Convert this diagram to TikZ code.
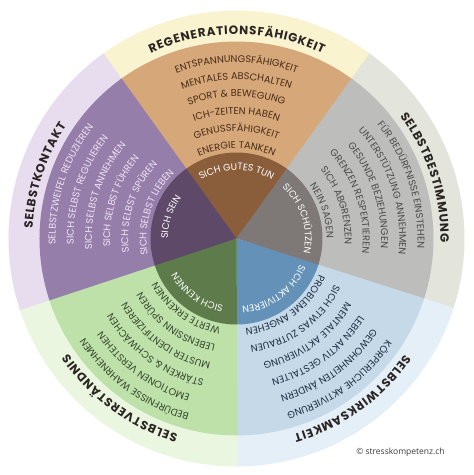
\documentclass[tikz,border=0pt]{standalone}
\usepackage{fontspec}
\setmainfont{Poppins}
\newfontfamily\copyfont{Open Sans}
\usetikzlibrary{decorations.text}

\definecolor{outbrown}{HTML}{FAF3CF}
\definecolor{midbrown}{HTML}{D5A779}
\definecolor{inbrown}{HTML}{8A5D3B}
\definecolor{txtbrown}{HTML}{4A2C16}
\definecolor{outgrey}{HTML}{E3E4DB}
\definecolor{midgrey}{HTML}{BDBDBC}
\definecolor{ingrey}{HTML}{7E7977}
\definecolor{txtgrey}{HTML}{4B4B4B}
\definecolor{outblue}{HTML}{E5EFF8}
\definecolor{midblue}{HTML}{C5D9E8}
\definecolor{inblue}{HTML}{6391B8}
\definecolor{txtblue}{HTML}{1F2C42}
\definecolor{outgreen}{HTML}{EBF6E1}
\definecolor{midgreen}{HTML}{BEE0A9}
\definecolor{ingreen}{HTML}{5E7C4B}
\definecolor{txtgreen}{HTML}{33452C}
\definecolor{outpurple}{HTML}{E8DCEF}
\definecolor{midpurple}{HTML}{967EAB}
\definecolor{inpurple}{HTML}{5E4A68}
\definecolor{txtpurple}{HTML}{EEE4F3}
\definecolor{headcol}{HTML}{2A2522}
\definecolor{copycol}{HTML}{3A3A3A}

% text on a clockwise arc: angle, radius, colour, spacing, text
\newcommand{\arclabel}[5]{%
  \path[decorate, decoration={text along path, text align=center,
    text/.expanded={|\noexpand\color{#3}\kern#4|#5}}]
    (#1+80:#2) arc[start angle=#1+80, end angle=#1-80, radius=#2];}

\begin{document}
\begin{tikzpicture}[x=1pt, y=1pt]
\useasboundingbox[fill=white] (-236.5,-236.5) rectangle (237.5,238.5);
% rings
\foreach \rad/\lay in {228/out, 197/mid, 86/in}
  \foreach \ang/\col in {90/brown, 18/grey, -54/blue, -126/green, 162/purple}
    \fill[fill=\lay\col] (0,0) -- (\ang+36.3:\rad)
      arc[start angle=\ang+36.3, end angle=\ang-36.3, radius=\rad] -- cycle;
% labels
\foreach \ang/\tcol/\ro/\head/\inn/\items in {%
  90/txtbrown/176/REGENERATIONSFÄHIGKEIT/SICH GUTES TUN/{ENTSPANNUNGSFÄHIGKEIT, MENTALES ABSCHALTEN, SPORT {\&} BEWEGUNG, ICH-ZEITEN HABEN, GENUSSFÄHIGKEIT, ENERGIE TANKEN},
  18/txtgrey/181/SELBSTBESTIMMUNG/SICH SCHÜTZEN/{FÜR BEDÜRFNISSE EINSTEHEN, UNTERSTÜTZUNG ANNEHMEN, GESUNDE BEZIEHUNGEN, GRENZEN RESPEKTIEREN, SICH ABGRENZEN, NEIN SAGEN},
  -54/txtblue/181/SELBSTWIRKSAMKEIT/SICH AKTIVIEREN/{KÖRPERLICHE AKTIVIERUNG, GEWOHNHEITEN ÄNDERN, LEBEN AKTIV GESTALTEN, MENTALE AKTIVIERUNG, SICH ETWAS ZUTRAUEN, PROBLEME ANGEHEN},
  -126/txtgreen/181/SELBSTVERSTÄNDNIS/SICH KENNEN/{BEDÜRFNISSE WAHRNEHMEN, EMOTIONEN VERSTEHEN, STÄRKEN {\&} SCHWÄCHEN, MUSTER IDENTIFIZIEREN, LEBENSSINN SPÜREN, WERTE ERKENNEN},
  162/txtpurple/181/SELBSTKONTAKT/SICH SEIN/{SELBSTZWEIFEL REDUZIEREN, SICH SELBST REGULIEREN, SICH SELBST ANNEHMEN, SICH SELBST FÜHREN, SICH SELBST SPÜREN, SICH SELBST LIEBEN}}
{
  {\bfseries\fontsize{12}{14}\selectfont\arclabel{\ang}{204}{headcol}{0.8pt}{\head}}
  {\fontsize{9.5}{11}\selectfont\arclabel{\ang}{68.5}{white}{0pt}{\inn}}
  \foreach \txt [count=\i, evaluate=\i as \rr using {\ro-(\ro-90)*(\i-1)/5}] in \items
    {\fontsize{9.8}{11}\selectfont\arclabel{\ang}{\rr}{\tcol}{0pt}{\txt}}
}
\node (copyright) [text=copycol, font=\copyfont\fontsize{8.5}{10}\selectfont]
  at (164,-213.5) {© stresskompetenz.ch};
\end{tikzpicture}
\end{document}
